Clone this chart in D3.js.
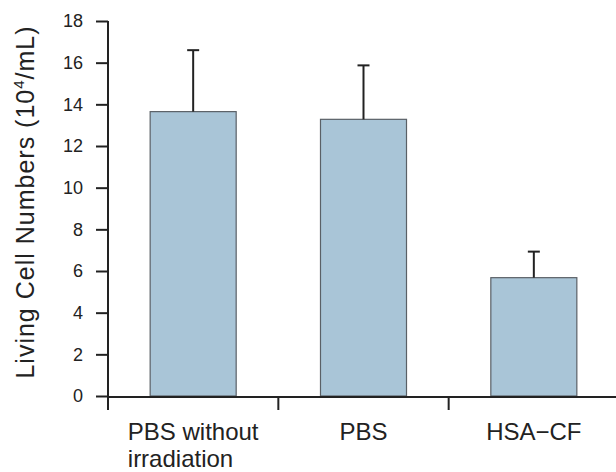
<!DOCTYPE html>
<html>
<head>
<meta charset="utf-8">
<script src="https://cdn.jsdelivr.net/npm/d3@7"></script>
<style>
  html, body { margin: 0; padding: 0; background: #fff; }
  svg { display: block; font-family: Arial, "Liberation Sans", sans-serif; }
</style>
</head>
<body>
<svg id="chart" width="616" height="472"></svg>
<script>
const categories = [["PBS without", "irradiation"], ["PBS"], ["HSA\u2212CF"]];
const means = [13.65, 13.28, 5.68];
const errors = [2.95, 2.59, 1.25];
const yTicks = [0, 2, 4, 6, 8, 10, 12, 14, 16, 18];

(function () {
const svg = d3.select("#chart");
const mLeft = 108, mRight = 619, mTop = 21, mBottom = 396;
const textColor = "#222";

const x = d3.scaleBand().domain(d3.range(categories.length)).range([mLeft, mRight])
  .paddingInner(0.495).paddingOuter(0.2475);
const y = d3.scaleLinear().domain([0, 18]).range([mBottom, mTop]);

// bars
svg.append("g").selectAll("rect").data(means).join("rect")
  .attr("x", (d, i) => x(i))
  .attr("y", d => y(d))
  .attr("width", x.bandwidth())
  .attr("height", d => y(0) - y(d))
  .attr("fill", "#a9c5d7")
  .attr("stroke", "#5a6066")
  .attr("stroke-width", 1.2);

// error bars
const eg = svg.append("g").attr("stroke", "#222").attr("stroke-width", 2);
means.forEach((m, i) => {
  const cx = x(i) + x.bandwidth() / 2;
  eg.append("line").attr("x1", cx).attr("x2", cx).attr("y1", y(m)).attr("y2", y(m + errors[i]));
  eg.append("line").attr("x1", cx - 6).attr("x2", cx + 6).attr("y1", y(m + errors[i])).attr("y2", y(m + errors[i]));
});

// y axis
const yAxis = svg.append("g").attr("transform", `translate(${mLeft},0)`)
  .call(d3.axisLeft(y).tickValues(yTicks).tickSize(12).tickPadding(13).tickSizeOuter(0));
yAxis.select(".domain").remove();
yAxis.append("line").attr("x1", 0).attr("x2", 0).attr("y1", mTop).attr("y2", mBottom + 14)
  .attr("stroke", "#222").attr("stroke-width", 2);
yAxis.selectAll(".tick line").attr("stroke", "#222").attr("stroke-width", 2);
yAxis.selectAll(".tick text").attr("fill", textColor).attr("font-size", 18)
  .attr("font-family", "Arial, 'Liberation Sans', sans-serif");

// x axis
const step = x.step();
const xa = svg.append("g");
xa.append("line").attr("x1", mLeft).attr("x2", 616).attr("y1", mBottom + 1).attr("y2", mBottom + 1)
  .attr("stroke", "#222").attr("stroke-width", 2);
const sepPositions = d3.range(1, categories.length).map(i => x(i) - x.paddingInner() * step / 2);
xa.selectAll("line.sep").data(sepPositions).join("line").attr("class", "sep")
  .attr("x1", d => d).attr("x2", d => d).attr("y1", mBottom + 1).attr("y2", mBottom + 14)
  .attr("stroke", "#222").attr("stroke-width", 2);

// x labels
categories.forEach((lines, i) => {
  const cx = x(i) + x.bandwidth() / 2;
  const t = svg.append("text").attr("font-size", 24).attr("fill", textColor)
    .attr("font-family", "Arial, 'Liberation Sans', sans-serif");
  const first = t.append("tspan").text(lines[0]).attr("x", 0).attr("y", 440);
  const w = first.node().getComputedTextLength();
  const x0 = cx - w / 2;
  first.attr("x", x0);
  for (let k = 1; k < lines.length; k++) {
    t.append("tspan").text(lines[k]).attr("x", x0).attr("y", 440 + 27 * k);
  }
});

// y title
const title = svg.append("text")
  .attr("transform", "translate(34,202) rotate(-90)")
  .attr("text-anchor", "middle")
  .attr("font-size", 25).attr("fill", textColor)
  .attr("letter-spacing", 1)
  .attr("font-family", "Arial, 'Liberation Sans', sans-serif");
title.append("tspan").text("Living Cell Numbers (10");
title.append("tspan").text("4").attr("font-size", 15).attr("dy", -10);
title.append("tspan").text("/mL)").attr("dy", 10);
})();
</script>
</body>
</html>
